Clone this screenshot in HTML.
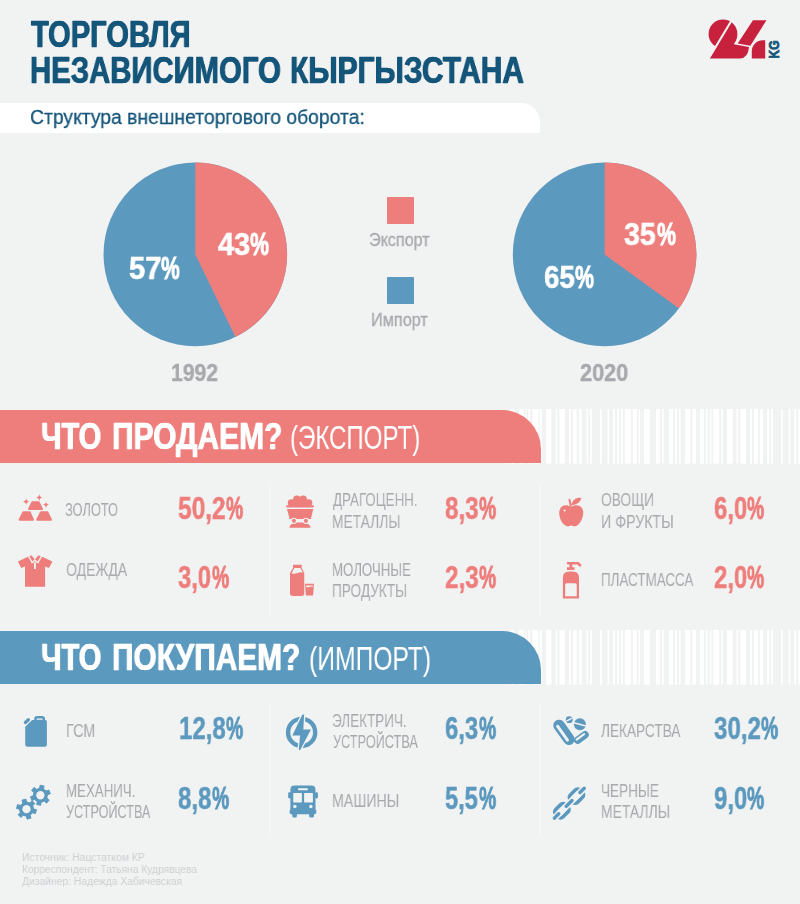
<!DOCTYPE html>
<html lang="ru"><head><meta charset="utf-8"><title>Торговля независимого Кыргызстана</title>
<style>
html,body{margin:0;padding:0}
body{width:800px;height:904px;background:#f1f2f2;position:relative;overflow:hidden;font-family:"Liberation Sans",sans-serif}
.t{position:absolute;white-space:nowrap;line-height:1;transform-origin:0 0;font-weight:400;will-change:transform}
.b{font-weight:700}
.abs{position:absolute}
</style></head><body>
<div class="t b" style="left:31.06px;top:15.70px;font-size:37.21px;color:#14557a;-webkit-text-stroke:0.3px #14557a;text-shadow:0.55px 0 0 #14557a,-0.55px 0 0 #14557a;transform:scaleX(0.7829)">ТОРГОВЛЯ</div>
<div class="t b" style="left:30.45px;top:51.70px;font-size:37.21px;color:#14557a;-webkit-text-stroke:0.3px #14557a;text-shadow:0.55px 0 0 #14557a,-0.55px 0 0 #14557a;transform:scaleX(0.7876)">НЕЗАВИСИМОГО</div>
<div class="t b" style="left:290.42px;top:51.70px;font-size:37.21px;color:#14557a;-webkit-text-stroke:0.3px #14557a;text-shadow:0.55px 0 0 #14557a,-0.55px 0 0 #14557a;transform:scaleX(0.8046)">КЫРГЫЗСТАНА</div>
<div class="abs" style="left:0;top:103.3px;width:540.3px;height:29.5px;background:#fff;border-top-right-radius:19px"></div>
<div class="t" style="left:30.17px;top:106.46px;font-size:21.08px;color:#14557a;-webkit-text-stroke:0.3px #14557a;transform:scaleX(0.9178)">Структура внешнеторгового оборота:</div>
<svg class="abs" style="left:704px;top:14px" width="80" height="50" viewBox="0 0 800 500">
<circle cx="190" cy="200" r="144" fill="#c8213d"/>
<path d="M55,445 L250,128 L324,240 Q318,275 298,303 L450,331 Q442,440 362,445 Z" fill="#c8213d"/>
<path d="M294,35 L42,453" stroke="#f1f2f2" stroke-width="21" fill="none"/>
<path d="M490,62 L625,62 L463,318 L337,294 Z" fill="#c8213d"/>
<path d="M478,445 L478,372 A110,110 0 0 1 588,262 L612,262 L612,445 Z" fill="#c8213d"/>
</svg>
<svg class="abs" style="left:764px;top:36px" width="20" height="26" viewBox="764 36 20 26"><text transform="translate(779.3,58.4) rotate(-90)" textLength="18.0" lengthAdjust="spacingAndGlyphs" font-family="Liberation Sans, sans-serif" font-weight="700" font-size="13.8" fill="#14557a" stroke="#14557a" stroke-width="0.7">KG</text></svg>
<svg class="abs" style="left:0;top:150px" width="800" height="210" viewBox="0 150 800 210"><circle cx="195.3" cy="254.4" r="91.8" fill="#5c99be"/><path d="M195.3,254.4 L195.3,162.60000000000002 A91.8,91.8 0 0 1 235.43,336.97 Z" fill="#ee7e7c"/><circle cx="604.6" cy="254.4" r="91.8" fill="#5c99be"/><path d="M604.6,254.4 L604.6,162.60000000000002 A91.8,91.8 0 0 1 678.87,308.36 Z" fill="#ee7e7c"/></svg>
<div class="t b" style="left:217.85px;top:230.49px;font-size:30.96px;color:#fff;-webkit-text-stroke:0.6px #fff;transform:scaleX(0.9307)">43</div>
<div class="t b" style="left:249.93px;top:230.49px;font-size:30.96px;color:#fff;-webkit-text-stroke:1.05px #fff;transform:scaleX(0.6875)">%</div>
<div class="t b" style="left:128.61px;top:253.59px;font-size:30.96px;color:#fff;-webkit-text-stroke:0.6px #fff;transform:scaleX(0.9421)">57</div>
<div class="t b" style="left:161.13px;top:253.59px;font-size:30.96px;color:#fff;-webkit-text-stroke:1.05px #fff;transform:scaleX(0.6801)">%</div>
<div class="t b" style="left:624.36px;top:220.49px;font-size:30.96px;color:#fff;-webkit-text-stroke:0.6px #fff;transform:scaleX(0.9187)">35</div>
<div class="t b" style="left:656.93px;top:220.49px;font-size:30.96px;color:#fff;-webkit-text-stroke:1.05px #fff;transform:scaleX(0.6875)">%</div>
<div class="t b" style="left:543.80px;top:262.69px;font-size:30.96px;color:#fff;-webkit-text-stroke:0.6px #fff;transform:scaleX(0.8941)">65</div>
<div class="t b" style="left:574.93px;top:262.69px;font-size:30.96px;color:#fff;-webkit-text-stroke:1.05px #fff;transform:scaleX(0.6875)">%</div>
<div class="t b" style="left:171.41px;top:361.54px;font-size:23.69px;color:#a7a9ac;-webkit-text-stroke:0.4px #a7a9ac;transform:scaleX(0.8927)">1992</div>
<div class="t b" style="left:580.42px;top:361.54px;font-size:23.69px;color:#a7a9ac;-webkit-text-stroke:0.4px #a7a9ac;transform:scaleX(0.9155)">2020</div>
<div class="abs" style="left:386.6px;top:197.2px;width:27px;height:26.7px;border-radius:0.8px;background:#ee7e7c"></div>
<div class="abs" style="left:386.6px;top:277.2px;width:27px;height:26.7px;border-radius:0.8px;background:#5c99be"></div>
<div class="t" style="left:369.24px;top:231.30px;font-size:18.31px;color:#a7a9ac;-webkit-text-stroke:0.3px #a7a9ac;transform:scaleX(0.8822)">Экспорт</div>
<div class="t" style="left:371.03px;top:311.30px;font-size:18.31px;color:#a7a9ac;-webkit-text-stroke:0.3px #a7a9ac;transform:scaleX(0.8886)">Импорт</div>
<svg class="abs" style="left:0;top:409.1px" width="800" height="54.7" fill="#fff"><rect x="510.60" y="0" width="4.10" height="54.7"/><rect x="519.20" y="0" width="4.60" height="54.7"/><rect x="525.40" y="0" width="1.00" height="54.7"/><rect x="528.30" y="0" width="1.70" height="54.7"/><rect x="532.40" y="0" width="3.80" height="54.7"/><rect x="536.00" y="0" width="2.51" height="54.7"/><rect x="539.69" y="0" width="2.18" height="54.7"/><rect x="546.05" y="0" width="5.36" height="54.7"/><rect x="555.77" y="0" width="1.51" height="54.7"/><rect x="559.45" y="0" width="5.36" height="54.7"/><rect x="569.00" y="0" width="1.84" height="54.7"/><rect x="573.19" y="0" width="3.52" height="54.7"/><rect x="578.88" y="0" width="3.02" height="54.7"/><rect x="586.59" y="0" width="1.51" height="54.7"/><rect x="589.94" y="0" width="1.84" height="54.7"/><rect x="599.99" y="0" width="1.84" height="54.7"/><rect x="607.52" y="0" width="1.68" height="54.7"/><rect x="613.05" y="0" width="2.01" height="54.7"/><rect x="617.24" y="0" width="1.84" height="54.7"/><rect x="621.09" y="0" width="1.68" height="54.7"/><rect x="624.78" y="0" width="6.03" height="54.7"/><rect x="632.82" y="0" width="4.02" height="54.7"/><rect x="638.51" y="0" width="1.51" height="54.7"/><rect x="644.04" y="0" width="5.86" height="54.7"/><rect x="655.93" y="0" width="4.02" height="54.7"/><rect x="661.96" y="0" width="1.68" height="54.7"/><rect x="669.02" y="0" width="4.02" height="54.7"/><rect x="675.05" y="0" width="1.84" height="54.7"/><rect x="679.07" y="0" width="1.51" height="54.7"/><rect x="684.93" y="0" width="5.36" height="54.7"/><rect x="692.30" y="0" width="3.69" height="54.7"/><rect x="700.00" y="0" width="4.02" height="54.7"/><rect x="705.87" y="0" width="1.68" height="54.7"/><rect x="709.89" y="0" width="1.34" height="54.7"/><rect x="713.24" y="0" width="6.03" height="54.7"/><rect x="721.28" y="0" width="1.68" height="54.7"/><rect x="726.97" y="0" width="5.70" height="54.7"/><rect x="736.52" y="0" width="1.68" height="54.7"/><rect x="740.37" y="0" width="5.70" height="54.7"/><rect x="750.09" y="0" width="1.84" height="54.7"/><rect x="754.11" y="0" width="3.69" height="54.7"/><rect x="759.80" y="0" width="3.35" height="54.7"/><rect x="767.17" y="0" width="2.01" height="54.7"/><rect x="771.19" y="0" width="1.68" height="54.7"/><rect x="781.08" y="0" width="1.51" height="54.7"/><rect x="788.61" y="0" width="1.68" height="54.7"/><rect x="794.31" y="0" width="1.84" height="54.7"/><rect x="798.33" y="0" width="1.68" height="54.7"/></svg>
<div class="abs" style="left:0;top:409.9px;width:541.1px;height:53.1px;background:#ee7e7c;border-top-right-radius:39px"></div>
<div class="t b" style="left:41.15px;top:417.50px;font-size:37.21px;color:#fff;-webkit-text-stroke:0.3px #fff;text-shadow:0.55px 0 0 #fff,-0.55px 0 0 #fff;transform:scaleX(0.7831)">ЧТО</div>
<div class="t b" style="left:111.82px;top:417.50px;font-size:37.21px;color:#fff;-webkit-text-stroke:0.3px #fff;text-shadow:0.55px 0 0 #fff,-0.55px 0 0 #fff;transform:scaleX(0.8056)">ПРОДАЕМ?</div>
<div class="t" style="left:289.55px;top:420.77px;font-size:32.99px;color:#fff;transform:scaleX(0.7300)">(ЭКСПОРТ)</div>
<svg class="abs" style="left:0;top:630.1px" width="800" height="54.7" fill="#fff"><rect x="510.60" y="0" width="4.10" height="54.7"/><rect x="519.20" y="0" width="4.60" height="54.7"/><rect x="525.40" y="0" width="1.00" height="54.7"/><rect x="528.30" y="0" width="1.70" height="54.7"/><rect x="532.40" y="0" width="3.80" height="54.7"/><rect x="536.00" y="0" width="2.51" height="54.7"/><rect x="539.69" y="0" width="2.18" height="54.7"/><rect x="546.05" y="0" width="5.36" height="54.7"/><rect x="555.77" y="0" width="1.51" height="54.7"/><rect x="559.45" y="0" width="5.36" height="54.7"/><rect x="569.00" y="0" width="1.84" height="54.7"/><rect x="573.19" y="0" width="3.52" height="54.7"/><rect x="578.88" y="0" width="3.02" height="54.7"/><rect x="586.59" y="0" width="1.51" height="54.7"/><rect x="589.94" y="0" width="1.84" height="54.7"/><rect x="599.99" y="0" width="1.84" height="54.7"/><rect x="607.52" y="0" width="1.68" height="54.7"/><rect x="613.05" y="0" width="2.01" height="54.7"/><rect x="617.24" y="0" width="1.84" height="54.7"/><rect x="621.09" y="0" width="1.68" height="54.7"/><rect x="624.78" y="0" width="6.03" height="54.7"/><rect x="632.82" y="0" width="4.02" height="54.7"/><rect x="638.51" y="0" width="1.51" height="54.7"/><rect x="644.04" y="0" width="5.86" height="54.7"/><rect x="655.93" y="0" width="4.02" height="54.7"/><rect x="661.96" y="0" width="1.68" height="54.7"/><rect x="669.02" y="0" width="4.02" height="54.7"/><rect x="675.05" y="0" width="1.84" height="54.7"/><rect x="679.07" y="0" width="1.51" height="54.7"/><rect x="684.93" y="0" width="5.36" height="54.7"/><rect x="692.30" y="0" width="3.69" height="54.7"/><rect x="700.00" y="0" width="4.02" height="54.7"/><rect x="705.87" y="0" width="1.68" height="54.7"/><rect x="709.89" y="0" width="1.34" height="54.7"/><rect x="713.24" y="0" width="6.03" height="54.7"/><rect x="721.28" y="0" width="1.68" height="54.7"/><rect x="726.97" y="0" width="5.70" height="54.7"/><rect x="736.52" y="0" width="1.68" height="54.7"/><rect x="740.37" y="0" width="5.70" height="54.7"/><rect x="750.09" y="0" width="1.84" height="54.7"/><rect x="754.11" y="0" width="3.69" height="54.7"/><rect x="759.80" y="0" width="3.35" height="54.7"/><rect x="767.17" y="0" width="2.01" height="54.7"/><rect x="771.19" y="0" width="1.68" height="54.7"/><rect x="781.08" y="0" width="1.51" height="54.7"/><rect x="788.61" y="0" width="1.68" height="54.7"/><rect x="794.31" y="0" width="1.84" height="54.7"/><rect x="798.33" y="0" width="1.68" height="54.7"/></svg>
<div class="abs" style="left:0;top:630.9px;width:541.1px;height:53.1px;background:#5c99be;border-top-right-radius:39px"></div>
<div class="t b" style="left:41.14px;top:638.70px;font-size:37.21px;color:#fff;-webkit-text-stroke:0.3px #fff;text-shadow:0.55px 0 0 #fff,-0.55px 0 0 #fff;transform:scaleX(0.7844)">ЧТО</div>
<div class="t b" style="left:111.82px;top:638.70px;font-size:37.21px;color:#fff;-webkit-text-stroke:0.3px #fff;text-shadow:0.55px 0 0 #fff,-0.55px 0 0 #fff;transform:scaleX(0.8025)">ПОКУПАЕМ?</div>
<div class="t" style="left:308.52px;top:641.97px;font-size:32.99px;color:#fff;transform:scaleX(0.7481)">(ИМПОРТ)</div>
<div class="abs" style="left:269.0px;top:482.5px;width:2px;height:133px;background:#f6f5f5"></div>
<div class="abs" style="left:269.0px;top:703.5px;width:2px;height:133px;background:#f6f5f5"></div>
<div class="abs" style="left:539.0px;top:482.5px;width:2px;height:133px;background:#f6f5f5"></div>
<div class="abs" style="left:539.0px;top:703.5px;width:2px;height:133px;background:#f6f5f5"></div>
<div class="t" style="left:65.05px;top:501.89px;font-size:17.44px;color:#a7a9ac;transform:scaleX(0.7352)">ЗОЛОТО</div>
<div class="t" style="left:65.62px;top:561.89px;font-size:17.44px;color:#a7a9ac;transform:scaleX(0.8029)">ОДЕЖДА</div>
<div class="t" style="left:332.93px;top:492.39px;font-size:17.44px;color:#a7a9ac;transform:scaleX(0.7649)">ДРАГОЦЕНН.</div>
<div class="t" style="left:332.15px;top:513.64px;font-size:17.44px;color:#a7a9ac;transform:scaleX(0.7905)">МЕТАЛЛЫ</div>
<div class="t" style="left:332.19px;top:561.89px;font-size:17.44px;color:#a7a9ac;transform:scaleX(0.7597)">МОЛОЧНЫЕ</div>
<div class="t" style="left:332.16px;top:583.14px;font-size:17.44px;color:#a7a9ac;transform:scaleX(0.7808)">ПРОДУКТЫ</div>
<div class="t" style="left:600.63px;top:492.39px;font-size:17.44px;color:#a7a9ac;transform:scaleX(0.7909)">ОВОЩИ</div>
<div class="t" style="left:600.86px;top:513.64px;font-size:17.44px;color:#a7a9ac;transform:scaleX(0.8157)">И ФРУКТЫ</div>
<div class="t" style="left:600.68px;top:571.64px;font-size:17.44px;color:#a7a9ac;transform:scaleX(0.7688)">ПЛАСТМАССА</div>
<div class="t" style="left:65.60px;top:723.14px;font-size:17.44px;color:#a7a9ac;transform:scaleX(0.8234)">ГСМ</div>
<div class="t" style="left:65.69px;top:783.14px;font-size:17.44px;color:#a7a9ac;transform:scaleX(0.7614)">МЕХАНИЧ.</div>
<div class="t" style="left:66.37px;top:804.39px;font-size:17.44px;color:#a7a9ac;transform:scaleX(0.7248)">УСТРОЙСТВА</div>
<div class="t" style="left:332.26px;top:713.14px;font-size:17.44px;color:#a7a9ac;transform:scaleX(0.7746)">ЭЛЕКТРИЧ.</div>
<div class="t" style="left:332.62px;top:734.39px;font-size:17.44px;color:#a7a9ac;transform:scaleX(0.7291)">УСТРОЙСТВА</div>
<div class="t" style="left:332.12px;top:792.64px;font-size:17.44px;color:#a7a9ac;transform:scaleX(0.8128)">МАШИНЫ</div>
<div class="t" style="left:601.11px;top:723.14px;font-size:17.44px;color:#a7a9ac;transform:scaleX(0.7814)">ЛЕКАРСТВА</div>
<div class="t" style="left:600.67px;top:783.14px;font-size:17.44px;color:#a7a9ac;transform:scaleX(0.7762)">ЧЕРНЫЕ</div>
<div class="t" style="left:601.39px;top:804.39px;font-size:17.44px;color:#a7a9ac;transform:scaleX(0.7965)">МЕТАЛЛЫ</div>
<div class="t b" style="left:178.21px;top:492.85px;font-size:31.25px;color:#ee7e7c;-webkit-text-stroke:0.5px #ee7e7c;transform:scaleX(0.7810)">50,2</div>
<div class="t b" style="left:226.01px;top:492.85px;font-size:31.25px;color:#ee7e7c;-webkit-text-stroke:0.95px #ee7e7c;transform:scaleX(0.6176)">%</div>
<div class="t b" style="left:178.35px;top:562.35px;font-size:31.25px;color:#ee7e7c;-webkit-text-stroke:0.5px #ee7e7c;transform:scaleX(0.7612)">3,0</div>
<div class="t b" style="left:211.76px;top:562.35px;font-size:31.25px;color:#ee7e7c;-webkit-text-stroke:0.95px #ee7e7c;transform:scaleX(0.6176)">%</div>
<div class="t b" style="left:445.22px;top:492.85px;font-size:31.25px;color:#ee7e7c;-webkit-text-stroke:0.5px #ee7e7c;transform:scaleX(0.7732)">8,3</div>
<div class="t b" style="left:479.26px;top:492.85px;font-size:31.25px;color:#ee7e7c;-webkit-text-stroke:0.95px #ee7e7c;transform:scaleX(0.6176)">%</div>
<div class="t b" style="left:445.10px;top:562.35px;font-size:31.25px;color:#ee7e7c;-webkit-text-stroke:0.5px #ee7e7c;transform:scaleX(0.7760)">2,3</div>
<div class="t b" style="left:479.26px;top:562.35px;font-size:31.25px;color:#ee7e7c;-webkit-text-stroke:0.95px #ee7e7c;transform:scaleX(0.6176)">%</div>
<div class="t b" style="left:713.60px;top:492.85px;font-size:31.25px;color:#ee7e7c;-webkit-text-stroke:0.5px #ee7e7c;transform:scaleX(0.7669)">6,0</div>
<div class="t b" style="left:747.26px;top:492.85px;font-size:31.25px;color:#ee7e7c;-webkit-text-stroke:0.95px #ee7e7c;transform:scaleX(0.6176)">%</div>
<div class="t b" style="left:713.60px;top:562.35px;font-size:31.25px;color:#ee7e7c;-webkit-text-stroke:0.5px #ee7e7c;transform:scaleX(0.7669)">2,0</div>
<div class="t b" style="left:747.26px;top:562.35px;font-size:31.25px;color:#ee7e7c;-webkit-text-stroke:0.95px #ee7e7c;transform:scaleX(0.6176)">%</div>
<div class="t b" style="left:178.75px;top:713.35px;font-size:31.25px;color:#5c99be;-webkit-text-stroke:0.5px #5c99be;transform:scaleX(0.7679)">12,8</div>
<div class="t b" style="left:226.01px;top:713.35px;font-size:31.25px;color:#5c99be;-webkit-text-stroke:0.95px #5c99be;transform:scaleX(0.6176)">%</div>
<div class="t b" style="left:178.22px;top:783.35px;font-size:31.25px;color:#5c99be;-webkit-text-stroke:0.5px #5c99be;transform:scaleX(0.7703)">8,8</div>
<div class="t b" style="left:212.26px;top:783.35px;font-size:31.25px;color:#5c99be;-webkit-text-stroke:0.95px #5c99be;transform:scaleX(0.6176)">%</div>
<div class="t b" style="left:445.11px;top:713.35px;font-size:31.25px;color:#5c99be;-webkit-text-stroke:0.5px #5c99be;transform:scaleX(0.7641)">6,3</div>
<div class="t b" style="left:478.76px;top:713.35px;font-size:31.25px;color:#5c99be;-webkit-text-stroke:0.95px #5c99be;transform:scaleX(0.6176)">%</div>
<div class="t b" style="left:445.23px;top:783.35px;font-size:31.25px;color:#5c99be;-webkit-text-stroke:0.5px #5c99be;transform:scaleX(0.7556)">5,5</div>
<div class="t b" style="left:478.76px;top:783.35px;font-size:31.25px;color:#5c99be;-webkit-text-stroke:0.95px #5c99be;transform:scaleX(0.6176)">%</div>
<div class="t b" style="left:713.84px;top:713.35px;font-size:31.25px;color:#5c99be;-webkit-text-stroke:0.5px #5c99be;transform:scaleX(0.7705)">30,2</div>
<div class="t b" style="left:761.01px;top:713.35px;font-size:31.25px;color:#5c99be;-webkit-text-stroke:0.95px #5c99be;transform:scaleX(0.6176)">%</div>
<div class="t b" style="left:713.60px;top:783.35px;font-size:31.25px;color:#5c99be;-webkit-text-stroke:0.5px #5c99be;transform:scaleX(0.7669)">9,0</div>
<div class="t b" style="left:747.26px;top:783.35px;font-size:31.25px;color:#5c99be;-webkit-text-stroke:0.95px #5c99be;transform:scaleX(0.6176)">%</div>
<div class="t" style="left:21.67px;top:851.65px;font-size:11.05px;color:#cdcfd1;transform:scaleX(0.9401)">Источник: Нацстатком КР</div>
<div class="t" style="left:21.68px;top:863.85px;font-size:11.05px;color:#cdcfd1;transform:scaleX(0.9257)">Корреспондент: Татьяна Кудрявцева</div>
<div class="t" style="left:22.45px;top:876.05px;font-size:11.05px;color:#cdcfd1;transform:scaleX(0.9340)">Дизайнер: Надежда Хабичевская</div>
<svg class="abs" style="left:16px;top:492px" width="40" height="32" viewBox="16 492 40 32" fill="#ee7e7c"><path d="M29.13,509.00 L32.50,502.25 L38.50,502.25 L41.88,509.00 Z" stroke-linejoin="round" stroke-width="2.2" stroke="#ee7e7c"/><path d="M19.75,519.73 L23.35,512.38 L29.65,512.38 L32.88,519.73 Z" stroke-linejoin="round" stroke-width="2.2" stroke="#ee7e7c"/><path d="M37.38,519.73 L40.90,512.38 L47.35,512.38 L50.88,519.73 Z" stroke-linejoin="round" stroke-width="2.2" stroke="#ee7e7c"/><path d="M26.13,498.35 Q26.42,501.35 29.43,501.65 Q26.42,501.95 26.13,504.95 Q25.83,501.95 22.83,501.65 Q25.83,501.35 26.13,498.35Z"/><path d="M39.25,494.00 Q39.57,497.28 42.85,497.60 Q39.57,497.92 39.25,501.20 Q38.93,497.92 35.65,497.60 Q38.93,497.28 39.25,494.00Z"/><path d="M46.00,501.50 Q46.28,504.37 49.15,504.65 Q46.28,504.93 46.00,507.80 Q45.72,504.93 42.85,504.65 Q45.72,504.37 46.00,501.50Z"/></svg>
<svg class="abs" style="left:16px;top:552px" width="40" height="38" viewBox="16 552 40 38" fill="#ee7e7c"><polygon points="28.00,556.85 17.88,561.50 21.25,568.10 25.00,566.38 25.00,586.85 45.10,586.85 45.10,566.38 49.00,568.10 52.38,561.50 42.25,556.85 35.13,561.13"/><polygon points="28.60,556.10 31.38,554.15 34.90,558.50 38.50,554.15 41.50,556.10 37.90,562.63 34.90,560.00 32.13,562.63" stroke="#f1f2f2" stroke-width="1.3" stroke-linejoin="miter"/><rect x="34.00" y="562.10" width="1.9" height="6.9" fill="#f1f2f2"/></svg>
<svg class="abs" style="left:284px;top:492px" width="36" height="38" viewBox="284 492 36 38" fill="#ee7e7c"><circle cx="291.35" cy="502.85" r="3.60" /><circle cx="296.90" cy="499.25" r="3.75" /><circle cx="303.13" cy="499.25" r="3.75" /><circle cx="308.75" cy="502.85" r="3.60" /><rect x="289.25" y="501.13" width="21.75" height="5.25"/><rect x="286.10" y="505.25" width="27.90" height="2.33" rx="1.1"/><polygon points="287.00,509.00 313.25,509.00 310.85,518.90 289.63,518.90"/><path d="M289.25,527.75 Q290.00,524.00 295.25,522.50 L304.63,522.50 Q309.88,524.00 310.63,527.75 Z"/><circle cx="293.90" cy="520.85" r="3.15" fill="#f1f2f2"/><circle cx="305.90" cy="520.85" r="3.15" fill="#f1f2f2"/><rect x="293.90" y="519.95" width="12.00" height="1.95" fill="#f1f2f2"/><circle cx="293.90" cy="520.85" r="2.03" /><circle cx="305.90" cy="520.85" r="2.03" /></svg>
<svg class="abs" style="left:288px;top:563px" width="30" height="36" viewBox="288 563 30 36" fill="#ee7e7c"><rect x="292.85" y="564.85" width="9.00" height="2.55" rx="1"/><path d="M293.60,566.88 L301.10,566.88 L304.25,572.88 L304.25,593.13 Q304.25,595.90 301.25,595.90 L293.00,595.90 Q290.00,595.90 290.00,593.13 L290.00,572.88 Z"/><path d="M294.35,568.00 L300.35,568.00 L302.90,572.65 Q300.13,571.75 297.50,573.10 Q294.50,574.38 291.65,573.25 Z" fill="#f1f2f2"/><polygon points="305.00,583.75 314.00,583.75 313.10,595.45 305.90,595.45"/><path d="M306.05,585.40 L312.95,585.40 L312.80,586.75 Q311.00,586.00 309.13,586.90 Q307.63,587.35 306.20,586.90 Z" fill="#f1f2f2"/></svg>
<svg class="abs" style="left:556px;top:495px" width="30" height="34" viewBox="556 495 30 34" fill="#ee7e7c"><path d="M571.13,506.90 C575.25,504.13 582.00,504.65 583.13,511.25 C583.88,517.25 579.75,525.50 575.25,526.25 C573.00,526.48 572.40,525.50 571.13,525.50 C569.85,525.50 569.25,526.48 567.00,526.25 C562.50,525.50 558.38,517.25 559.35,511.25 C560.40,504.65 567.00,504.13 571.13,506.90 Z"/><path d="M570.00,506.75 L568.35,499.40 L570.15,498.50 L572.10,506.38 Z"/><path d="M571.50,505.10 C572.25,500.00 576.00,497.38 581.25,497.90 C580.50,502.25 576.75,504.65 571.50,505.10 Z"/><circle cx="564.60" cy="510.50" r="1.1" fill="#f1f2f2"/></svg>
<svg class="abs" style="left:560px;top:560px" width="26" height="42" viewBox="560 560 26 42" fill="#ee7e7c"><path d="M562.88,598.38 L562.88,577.75 Q562.88,571.38 569.25,571.38 L572.63,571.38 Q579.00,571.38 579.00,577.75 L579.00,598.38 Z"/><path d="M565.13,596.13 L565.13,584.88 Q565.13,583.15 566.85,583.15 L575.03,583.15 Q576.75,583.15 576.75,584.88 L576.75,596.13 Z" fill="#f1f2f2"/><rect x="567.00" y="567.25" width="7.50" height="2.70"/><rect x="569.48" y="563.50" width="2.85" height="4.50"/><path d="M568.13,563.28 L578.25,563.28 L580.13,565.38" fill="none" stroke="#ee7e7c" stroke-width="2.6" stroke-linecap="round" stroke-linejoin="round"/></svg>
<svg class="abs" style="left:20px;top:712px" width="32" height="38" viewBox="20 712 32 38" fill="#5c99be"><path d="M25.23,726.75 L32.13,720.00 L45.25,720.00 Q46.90,720.00 46.90,721.65 L46.90,744.38 Q46.90,746.63 44.65,746.63 L27.48,746.63 Q25.23,746.63 25.23,744.38 Z"/><rect x="35.35" y="717.30" width="8.55" height="3.75" rx="1.9" fill="none" stroke="#5c99be" stroke-width="2.4"/><path d="M25.38,722.40 L28.38,719.70" stroke="#5c99be" stroke-width="3.3" stroke-linecap="round" fill="none"/></svg>
<svg class="abs" style="left:14px;top:782px" width="42" height="42" viewBox="14 782 42 42" fill="#5c99be"><path d="M39.61,788.24 L40.08,785.20 L44.09,785.91 L43.49,788.92 L46.06,791.09 L48.93,789.97 L50.32,793.79 L47.41,794.78 L46.83,798.10 L49.22,800.02 L46.61,803.13 L44.30,801.11 L41.14,802.26 L40.67,805.30 L36.67,804.59 L37.26,801.58 L34.69,799.41 L31.82,800.53 L30.43,796.71 L33.34,795.72 L33.93,792.41 L31.53,790.48 L34.14,787.37 L36.45,789.39Z" stroke="#5c99be" stroke-width="0.9" stroke-linejoin="round"/><circle cx="40.38" cy="795.25" r="7.05"/><circle cx="40.38" cy="795.25" r="4.13" fill="#f1f2f2"/><path d="M33.55,808.98 L36.53,809.71 L35.48,813.64 L32.53,812.78 L30.15,815.16 L31.01,818.11 L27.09,819.16 L26.35,816.17 L23.10,815.30 L20.98,817.52 L18.10,814.65 L20.32,812.52 L19.45,809.27 L16.47,808.54 L17.52,804.62 L20.47,805.47 L22.85,803.10 L21.99,800.14 L25.92,799.09 L26.65,802.08 L29.90,802.95 L32.02,800.73 L34.90,803.60 L32.68,805.73Z" stroke="#5c99be" stroke-width="0.9" stroke-linejoin="round"/><circle cx="26.50" cy="809.13" r="7.05"/><circle cx="26.50" cy="809.13" r="4.13" fill="#f1f2f2"/></svg>
<svg class="abs" style="left:284px;top:712px" width="36" height="40" viewBox="284 712 36 40" fill="#5c99be"><circle cx="301.63" cy="732.38" r="13.55" fill="none" stroke="#5c99be" stroke-width="4.4"/><polygon points="302.30,714.83 304.10,714.53 303.35,729.38 310.93,729.38 300.20,750.00 298.78,750.08 300.05,735.38 292.33,735.38" fill="#f1f2f2" stroke="#f1f2f2" stroke-width="2.7" stroke-linejoin="round"/><polygon points="302.30,714.83 304.10,714.53 303.35,729.38 310.93,729.38 300.20,750.00 298.78,750.08 300.05,735.38 292.33,735.38"/></svg>
<svg class="abs" style="left:286px;top:783px" width="34" height="38" viewBox="286 783 34 38" fill="#5c99be"><rect x="288.13" y="792.25" width="3.00" height="6.15" rx="1.3" /><rect x="314.98" y="792.25" width="3.00" height="6.15" rx="1.3" /><path d="M290.38,812.50 L290.38,789.63 Q290.38,785.50 294.50,785.50 L311.38,785.50 Q315.50,785.50 315.50,789.63 L315.50,812.50 Z"/><rect x="289.63" y="809.13" width="26.63" height="5.03" rx="1.6" /><rect x="292.25" y="812.50" width="4.65" height="4.95" rx="1.5" /><rect x="309.13" y="812.50" width="4.88" height="4.95" rx="1.5" /><rect x="297.88" y="788.20" width="10.13" height="1.95" rx="0.95" fill="#f1f2f2"/><rect x="293.23" y="793.00" width="8.63" height="9.45" rx="0.4" fill="#f1f2f2"/><rect x="304.10" y="793.00" width="8.78" height="9.45" rx="0.4" fill="#f1f2f2"/><circle cx="294.88" cy="806.58" r="1.73" fill="#f1f2f2"/><circle cx="310.85" cy="806.58" r="1.73" fill="#f1f2f2"/></svg>
<svg class="abs" style="left:550px;top:712px" width="44" height="38" viewBox="550 712 44 38" fill="#5c99be"><path d="M559.05,725.40 L568.95,739.28" stroke="#5c99be" stroke-width="11.5" stroke-linecap="round" fill="none"/><path d="M557.70,726.30 L567.45,740.10" stroke="#f1f2f2" stroke-width="3.0" stroke-linecap="round" fill="none"/><path d="M577.65,740.18 L585.08,734.78" stroke="#5c99be" stroke-width="7.4" stroke-linecap="round" fill="none"/><path d="M576.60,739.58 L584.10,734.10" stroke="#f1f2f2" stroke-width="2.1" stroke-linecap="round" fill="none"/><circle cx="569.25" cy="719.63" r="3.45" /><path d="M566.40,721.13 L572.10,718.13" stroke="#f1f2f2" stroke-width="1.3" stroke-linecap="butt" fill="none"/><circle cx="579.90" cy="724.35" r="6.00" /><path d="M573.90,722.70 L585.90,726.00" stroke="#f1f2f2" stroke-width="1.5" stroke-linecap="butt" fill="none"/></svg>
<svg class="abs" style="left:550px;top:782px" width="40" height="42" viewBox="550 782 40 42" fill="#5c99be"><g transform="rotate(-45 576.45 796.08)"><rect x="569.55" y="790.98" width="13.80" height="10.20" rx="3.4" fill="none" stroke="#5c99be" stroke-width="3.7"/></g><g transform="rotate(-45 561.83 810.70)"><rect x="554.93" y="805.60" width="13.80" height="10.20" rx="3.4" fill="none" stroke="#5c99be" stroke-width="3.7"/></g><path d="M547.50,825.03 L591.00,781.53" stroke="#f1f2f2" stroke-width="6.5" stroke-linecap="butt" fill="none"/><path d="M554.40,818.13 L558.75,813.78" stroke="#5c99be" stroke-width="3.4" stroke-linecap="round" fill="none"/><path d="M566.25,806.28 L572.03,800.50" stroke="#5c99be" stroke-width="3.4" stroke-linecap="round" fill="none"/><path d="M579.98,792.55 L584.25,788.28" stroke="#5c99be" stroke-width="3.4" stroke-linecap="round" fill="none"/></svg>
</body></html>
